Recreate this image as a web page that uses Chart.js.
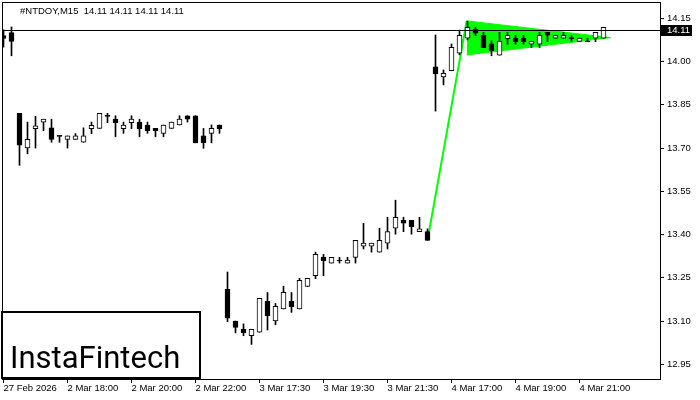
<!DOCTYPE html>
<html lang="en">
<head>
  <meta charset="UTF-8">
  <title>#NTDOY M15 - Bullish pennant</title>
  <style>
    html, body { margin: 0; padding: 0; background: #fff; }
    canvas { display: block; }
  </style>
</head>
<body>
  <canvas id="chart" width="700" height="400"></canvas>

  <script src="https://cdn.jsdelivr.net/npm/chart.js"></script>
  <script>
    const symbolTitle = '#NTDOY,M15  14.11 14.11 14.11 14.11';
    const lastPrice = 14.11;

    // 1) M15 candles (one entry per bar, left to right)
    const opens = [
      14.09, 14.10, 13.82, 13.70, 13.767, 13.79, 13.77, 13.742, 13.73, 13.73,
      13.72, 13.767, 13.768, 13.811, 13.80, 13.767, 13.788, 13.79, 13.78, 13.768,
      13.751, 13.768, 13.78, 13.812, 13.812, 13.742, 13.751, 13.78, 13.21, 13.10,
      13.072, 13.049, 13.061, 13.168, 13.10, 13.142, 13.168, 13.142, 13.22, 13.257,
      13.322, 13.301, 13.31, 13.301, 13.321, 13.36, 13.36, 13.339, 13.37, 13.422,
      13.449, 13.449, 13.41, 13.41, 13.982, 13.947, 13.968, 14.029, 14.081, 14.112,
      14.092, 14.061, 14.022, 14.079, 14.081, 14.081, 14.06, 14.06, 14.101, 14.081,
      14.081, 14.081, 14.07, 14.07, 14.081, 14.081
    ];
    const highs = [
      14.11, 14.12, 13.82, 13.79, 13.81, 13.80, 13.80, 13.742, 13.742, 13.75,
      13.77, 13.79, 13.82, 13.82, 13.812, 13.79, 13.812, 13.80, 13.79, 13.768,
      13.78, 13.79, 13.812, 13.812, 13.812, 13.768, 13.78, 13.78, 13.27, 13.10,
      13.09, 13.071, 13.179, 13.199, 13.161, 13.221, 13.199, 13.248, 13.248, 13.339,
      13.331, 13.321, 13.321, 13.321, 13.38, 13.439, 13.37, 13.422, 13.46, 13.519,
      13.46, 13.449, 13.46, 13.42, 14.092, 13.971, 14.061, 14.109, 14.14, 14.119,
      14.101, 14.072, 14.101, 14.101, 14.091, 14.091, 14.07, 14.101, 14.101, 14.091,
      14.101, 14.091, 14.081, 14.081, 14.101, 14.119
    ];
    const lows = [
      14.05, 14.02, 13.64, 13.68, 13.70, 13.76, 13.72, 13.72, 13.70, 13.73,
      13.72, 13.75, 13.768, 13.788, 13.739, 13.751, 13.767, 13.739, 13.751, 13.739,
      13.739, 13.768, 13.78, 13.79, 13.718, 13.699, 13.718, 13.751, 13.098, 13.059,
      13.049, 13.019, 13.061, 13.069, 13.087, 13.142, 13.130, 13.142, 13.22, 13.247,
      13.257, 13.301, 13.301, 13.301, 13.301, 13.35, 13.339, 13.339, 13.35, 13.401,
      13.41, 13.401, 13.41, 13.38, 13.828, 13.919, 13.968, 14.023, 14.075, 14.09,
      14.048, 14.02, 14.022, 14.06, 14.06, 14.06, 14.048, 14.048, 14.069, 14.081,
      14.081, 14.07, 14.07, 14.07, 14.069, 14.081
    ];
    const closes = [
      14.08, 14.07, 13.71, 13.73, 13.777, 13.80, 13.73, 13.742, 13.742, 13.742,
      13.742, 13.779, 13.82, 13.812, 13.788, 13.78, 13.80, 13.767, 13.76, 13.76,
      13.78, 13.79, 13.80, 13.80, 13.718, 13.718, 13.768, 13.767, 13.11, 13.078,
      13.059, 13.071, 13.179, 13.118, 13.151, 13.20, 13.150, 13.241, 13.248, 13.331,
      13.309, 13.321, 13.31, 13.311, 13.38, 13.37, 13.37, 13.38, 13.41, 13.46,
      13.439, 13.427, 13.42, 13.38, 13.957, 13.959, 14.049, 14.091, 14.119, 14.098,
      14.048, 14.038, 14.071, 14.091, 14.069, 14.069, 14.07, 14.091, 14.091, 14.091,
      14.091, 14.081, 14.081, 14.07, 14.101, 14.119
    ];

    // 2) axis labels
    const xTickIndex  = [0, 8, 16, 24, 32, 40, 48, 56, 64, 72];
    const xTickLabels = ['27 Feb 2026', '2 Mar 18:00', '2 Mar 20:00', '2 Mar 22:00', '3 Mar 17:30',
                         '3 Mar 19:30', '3 Mar 21:30', '4 Mar 17:00', '4 Mar 19:00', '4 Mar 21:00'];
    const yTicks = [12.95, 13.10, 13.25, 13.40, 13.55, 13.70, 13.85, 14.00, 14.15];

    // 3) pennant pattern (bar index / price)
    const poleX = [53, 57.9];
    const poleY = [13.38, 14.141];
    const flagX = [57.9, 75.9];
    const flagTop = [14.141, 14.083];
    const flagBottom = [14.023, 14.083];

    const LIME = '#00ff00';
    const FONT = '"Liberation Sans", Arial, sans-serif';

    const bars = opens.map((_, i) => i);
    const wickData = bars.map(i => ({ x: i, y: [lows[i], highs[i]] }));
    const bodyData = bars.map(i => {
      let lo = Math.min(opens[i], closes[i]), hi = Math.max(opens[i], closes[i]);
      if (hi - lo < 0.003) { const m = (hi + lo) / 2; lo = m - 0.0018; hi = m + 0.0018; } // doji -> thin line
      return { x: i, y: [lo, hi] };
    });
    const bodyFill = bars.map(i => (closes[i] - opens[i] >= 0.002 ? '#ffffff' : '#000000'));

    const decor = {
      id: 'decor',
      afterDatasetsDraw(chart) {
        const { ctx, chartArea: a, scales: { y } } = chart;
        const py = Math.round(y.getPixelForValue(lastPrice)) + 0.5;
        ctx.save();
        ctx.strokeStyle = '#000';
        ctx.lineWidth = 1;
        ctx.beginPath();
        ctx.moveTo(a.left - 1, py);
        ctx.lineTo(a.right, py);
        ctx.stroke();
        ctx.restore();
      },
      afterDraw(chart) {
        const { ctx, chartArea: a, scales: { y } } = chart;
        ctx.save();
        // frame
        ctx.strokeStyle = '#000';
        ctx.lineWidth = 1;
        ctx.strokeRect(a.left - 0.5, a.top - 0.5, a.right - a.left + 1, a.bottom - a.top + 1);
        // title
        ctx.fillStyle = '#000';
        ctx.font = '9.5px ' + FONT;
        ctx.textBaseline = 'middle';
        ctx.textAlign = 'left';
        ctx.fillText(symbolTitle, 20, 11);
        // current price tag
        const py = Math.round(y.getPixelForValue(lastPrice));
        ctx.fillRect(a.right + 1, py - 5, 31, 11);
        ctx.fillStyle = '#fff';
        ctx.fillText(lastPrice.toFixed(2), a.right + 7, py + 0.5);
        // logo box
        ctx.fillStyle = '#fff';
        ctx.fillRect(2, 312, 198, 66);
        ctx.strokeStyle = '#000';
        ctx.lineWidth = 2;
        ctx.strokeRect(2, 312, 198, 66);
        ctx.fillStyle = '#000';
        ctx.font = '400 31px Roboto, "Liberation Sans", sans-serif';
        ctx.textBaseline = 'alphabetic';
        ctx.fillText('InstaFintech', 10, 368);
        ctx.restore();
      }
    };

    new Chart(document.getElementById('chart'), {
      type: 'bar',
      data: {
        datasets: [
          { type: 'bar', label: 'body', data: bodyData, backgroundColor: bodyFill, borderColor: '#000',
            borderWidth: 1, borderSkipped: false, barThickness: 5, grouped: false, order: 1 },
          { type: 'bar', label: 'wick', data: wickData, backgroundColor: '#000', borderWidth: 0,
            barThickness: 1, grouped: false, order: 2 },
          { type: 'line', label: 'flagTop', data: flagX.map((x, i) => ({ x, y: flagTop[i] })),
            borderColor: LIME, borderWidth: 1, pointRadius: 0, fill: false, order: 3 },
          { type: 'line', label: 'flagBottom', data: flagX.map((x, i) => ({ x, y: flagBottom[i] })),
            borderColor: LIME, backgroundColor: LIME, borderWidth: 1, pointRadius: 0, fill: '-1', order: 3 },
          { type: 'line', label: 'pole', data: poleX.map((x, i) => ({ x, y: poleY[i] })),
            borderColor: LIME, borderWidth: 2, pointRadius: 0, fill: false, order: 4 }
        ]
      },
      options: {
        responsive: false,
        animation: false,
        devicePixelRatio: 1,
        layout: { padding: { left: 3, top: 3, right: 0, bottom: 0 } },
        plugins: { legend: { display: false }, tooltip: { enabled: false } },
        scales: {
          x: {
            type: 'linear',
            offset: false,
            min: -0.0625,
            max: 82.0625,
            grid: { display: true, offset: false, drawOnChartArea: false, drawTicks: true, tickLength: 4, color: '#000' },
            border: { display: false },
            afterBuildTicks: s => { s.ticks = xTickIndex.map(v => ({ value: v })); },
            afterFit: s => { s.height = 21; s.paddingLeft = 0; s.paddingRight = 0; },
            ticks: {
              autoSkip: false, maxRotation: 0, align: 'start', padding: 0,
              color: '#000', font: { family: FONT, size: 9.5 },
              callback: v => xTickLabels[xTickIndex.indexOf(v)]
            }
          },
          y: {
            position: 'right',
            min: 12.899,
            max: 14.203,
            grid: { display: true, drawOnChartArea: false, drawTicks: true, tickLength: 4, color: '#000' },
            border: { display: false },
            afterBuildTicks: s => { s.ticks = yTicks.map(v => ({ value: v })); },
            afterFit: s => { s.width = 40; s.paddingTop = 0; s.paddingBottom = 0; },
            ticks: {
              autoSkip: false, padding: 3, color: '#000', font: { family: FONT, size: 9.5 },
              callback: v => v.toFixed(2)
            }
          }
        }
      },
      plugins: [decor]
    });
  </script>
</body>
</html>
